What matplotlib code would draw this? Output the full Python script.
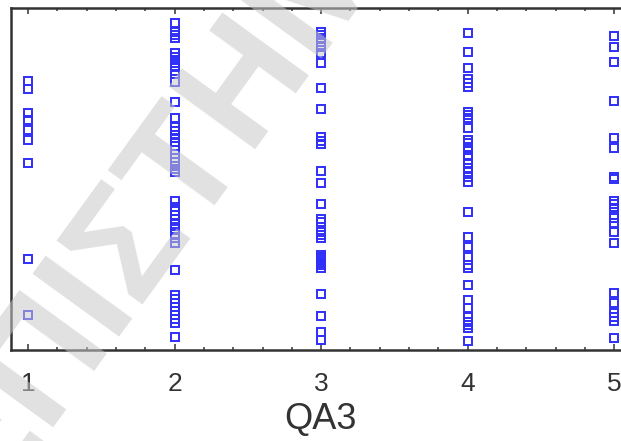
import matplotlib
matplotlib.use("Agg")
import matplotlib.pyplot as plt
from matplotlib.ticker import MultipleLocator

plt.rcParams["font.family"] = ["Liberation Sans", "DejaVu Sans"]

# ===== data: score of each respondent, grouped by QA3 answer =====
qa3_levels = [1, 2, 3, 4, 5]

score_qa3_1 = [78.7, 76.4, 69.4, 67.3, 64.3, 61.4, 54.6, 26.7, 10.1]
score_qa3_2 = [95.5, 93.0, 92.1, 91.2, 86.8, 85.7, 84.8, 83.9, 82.7, 81.6,
               80.7, 78.4, 72.6, 67.7, 65.2, 64.0, 62.9, 62.0, 60.8, 59.6,
               58.5, 57.3, 56.1, 55.0, 53.8, 52.9, 52.0, 43.6, 41.8, 40.6,
               39.5, 38.3, 36.8, 35.4, 33.9, 32.7, 31.3, 23.4, 16.1, 14.9,
               13.7, 12.6, 11.4, 10.2, 9.1, 7.9, 3.9]
score_qa3_3 = [93.1, 92.1, 91.1, 90.1, 88.7, 86.8, 83.8, 76.7, 70.4, 62.3,
               61.2, 60.2, 52.3, 48.7, 42.6, 38.3, 37.3, 34.6, 33.6, 32.7,
               27.8, 27.2, 26.9, 26.3, 25.7, 25.4, 24.9, 24.0, 16.4, 10.0,
               5.3, 2.9]
score_qa3_4 = [92.6, 87.2, 82.4, 79.2, 78.0, 76.8, 69.7, 68.7, 67.7, 64.8,
               61.4, 60.4, 59.4, 58.5, 56.7, 54.6, 53.1, 52.1, 50.7, 49.2,
               40.4, 33.0, 30.2, 27.3, 24.9, 23.9, 19.0, 14.6, 12.2, 9.7,
               8.3, 7.3, 6.3, 2.7]
score_qa3_5 = [91.8, 88.7, 84.1, 72.8, 62.1, 59.2, 50.5, 49.9, 43.6, 42.6,
               41.6, 39.5, 38.5, 37.2, 34.4, 31.2, 16.6, 13.7, 10.8, 9.6,
               8.5, 3.4]

groups = [score_qa3_1, score_qa3_2, score_qa3_3, score_qa3_4, score_qa3_5]

# ===== plot =====
fig = plt.figure(figsize=(6.21, 4.41), dpi=100)
ax = fig.add_axes([11 / 621, 91 / 441, 618 / 621, 342 / 441])

for level, scores in zip(qa3_levels, groups):
    ax.plot([level] * len(scores), scores, linestyle="none", marker="s",
            markersize=5.4, markerfacecolor="none",
            markeredgecolor="#2f2ff8", markeredgewidth=1.4)

ax.set_xlim(0.884, 5.10)
ax.set_ylim(0, 100)
ax.set_xticks(qa3_levels)
ax.xaxis.set_minor_locator(MultipleLocator(0.2))
ax.set_yticks([])

ax.tick_params(axis="x", which="both", direction="in", top=True, bottom=True,
               colors="#333333", labelsize=19, pad=16)
ax.tick_params(axis="x", which="major", length=4.5, width=1.1)
ax.tick_params(axis="x", which="minor", length=2.5, width=1.1)
for side in ax.spines.values():
    side.set_linewidth(1.8)
    side.set_color("#333333")

ax.set_xlabel("QA3", fontsize=26, color="#333333", labelpad=4)

# watermark across the figure
fig.text(102 / 621, 1 - 278 / 441, "ΠΑΝΕΠΙΣΤΗΜΙΟ", fontsize=112,
         fontweight="bold", color="#c8c8c8", alpha=0.55, rotation=54,
         rotation_mode="anchor", ha="center", va="center", zorder=10)

fig.savefig("out.png", dpi=100)
